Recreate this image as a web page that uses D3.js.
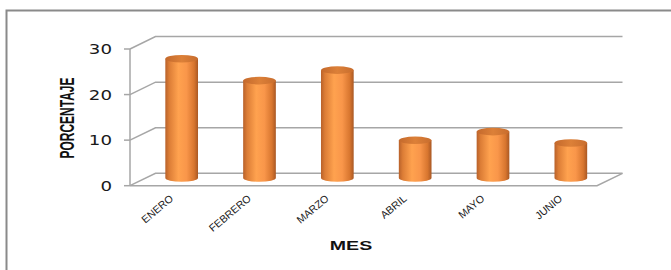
<!DOCTYPE html>
<html>
<head>
<meta charset="utf-8">
<script src="https://cdn.jsdelivr.net/npm/d3@7"></script>
<style>
  body { margin: 0; background: #fff; }
  svg { display: block; }
</style>
</head>
<body>
<div class="grafico"></div>
<script>
const meses = ["ENERO", "FEBRERO", "MARZO", "ABRIL", "MAYO", "JUNIO"];
const porcentaje = [26.5, 21.7, 24.0, 8.6, 10.5, 8.0];
const yTicks = [0, 10, 20, 30];

const width = 671, height = 270;
// the original picture is stretched sideways, text gets the same stretch
const sx = 1.45;

// depth offset of the 3D box (front -> back)
const depth = { dx: 25.5, dy: -12.4 };

const svg = d3.select(".grafico")
    .append("svg")
    .attr("width", width)
    .attr("height", height);

const x = d3.scaleBand()
    .domain(meses)
    .range([130, 597])
    .padding(0);

const y = d3.scaleLinear()
    .domain([0, 30])
    .range([185.7, 49]);

// outer frame
svg.append("rect")
    .attr("x", 6.5).attr("y", 10.5)
    .attr("width", 700).attr("height", 300)
    .attr("fill", "none")
    .attr("stroke", "#8a8a8a")
    .attr("stroke-width", 2);

const grid = svg.append("g")
    .attr("stroke", "#a6a6a6")
    .attr("stroke-width", 1.5)
    .attr("fill", "none");

const x0 = x.range()[0], x1 = x.range()[1];

// back wall lines + side diagonals
yTicks.forEach(t => {
    const yf = y(t);
    grid.append("path")
        .attr("d", `M${x0},${yf} L${x0 + depth.dx},${yf + depth.dy} L${x1 + depth.dx},${yf + depth.dy}`);
});

// floor front edge and right diagonal
grid.append("path")
    .attr("d", `M${x0},${y(0)} L${x1},${y(0)} L${x1 + depth.dx},${y(0) + depth.dy}`);

// front vertical axis + ticks
grid.append("line")
    .attr("x1", x0).attr("x2", x0)
    .attr("y1", y(30)).attr("y2", y(0));
yTicks.forEach(t => {
    grid.append("line")
        .attr("x1", x0 - 6).attr("x2", x0)
        .attr("y1", y(t)).attr("y2", y(t));
});

// y tick labels
svg.append("g")
    .selectAll("text")
    .data(yTicks)
    .join("text")
    .attr("transform", d => `translate(${x0 - 18},${y(d) + 5}) scale(1.3,1)`)
    .attr("text-anchor", "end")
    .attr("font-family", "DejaVu Sans")
    .attr("font-size", 14)
    .attr("fill", "#1a1a1a")
    .text(d => d);

// cylinder gradients
const defs = svg.append("defs");
const grad = defs.append("linearGradient")
    .attr("id", "cuerpo")
    .attr("x1", "0%").attr("x2", "100%")
    .attr("y1", "0%").attr("y2", "0%");
[["0%", "#b8612a"], ["12%", "#dc7d36"], ["40%", "#ffa24f"], ["65%", "#f9964a"], ["88%", "#d8762f"], ["100%", "#a95824"]]
    .forEach(([o, c]) => grad.append("stop").attr("offset", o).attr("stop-color", c));

const gradTop = defs.append("linearGradient")
    .attr("id", "tapa")
    .attr("x1", "0%").attr("x2", "100%");
[["0%", "#c4692c"], ["50%", "#dc8038"], ["100%", "#c86d2e"]]
    .forEach(([o, c]) => gradTop.append("stop").attr("offset", o).attr("stop-color", c));

const rx = x.bandwidth() * 0.21;
const ry = 3.8;
const mid = { dx: depth.dx / 2, dy: depth.dy / 2 };

const bars = svg.append("g")
    .selectAll("g")
    .data(meses.map((m, i) => ({ mes: m, valor: porcentaje[i] })))
    .join("g");

bars.append("path")
    .attr("fill", "url(#cuerpo)")
    .attr("d", d => {
        const cx = x(d.mes) + x.bandwidth() / 2 + mid.dx;
        const yt = y(d.valor) + mid.dy;
        const yb = y(0) + mid.dy - 1.5;
        return `M${cx - rx},${yt} L${cx - rx},${yb} A${rx},${ry} 0 0 0 ${cx + rx},${yb} L${cx + rx},${yt} Z`;
    });

bars.append("ellipse")
    .attr("fill", "url(#tapa)")
    .attr("cx", d => x(d.mes) + x.bandwidth() / 2 + mid.dx)
    .attr("cy", d => y(d.valor) + mid.dy)
    .attr("rx", rx)
    .attr("ry", ry);

// category labels
svg.append("g")
    .selectAll("text")
    .data(meses)
    .join("text")
    .attr("transform", d => `translate(${x(d) + x.bandwidth() / 2 + 5},${y(0) + 14}) rotate(-40)`)
    .attr("text-anchor", "end")
    .attr("font-family", "Liberation Sans")
    .attr("font-size", 10.5)
    .attr("fill", "#1a1a1a")
    .text(d => d);

// axis titles
svg.append("text")
    .attr("transform", `translate(351,250) scale(${sx},1)`)
    .attr("text-anchor", "middle")
    .attr("font-family", "Liberation Sans")
    .attr("font-weight", "bold")
    .attr("font-size", 13.5)
    .attr("fill", "#111")
    .text("MES");

svg.append("text")
    .attr("transform", `translate(74,118) scale(${sx},1) rotate(-90)`)
    .attr("text-anchor", "middle")
    .attr("font-family", "Liberation Sans")
    .attr("font-weight", "bold")
    .attr("font-size", 14)
    .attr("textLength", 81)
    .attr("lengthAdjust", "spacingAndGlyphs")
    .attr("fill", "#111")
    .text("PORCENTAJE");
</script>
</body>
</html>
